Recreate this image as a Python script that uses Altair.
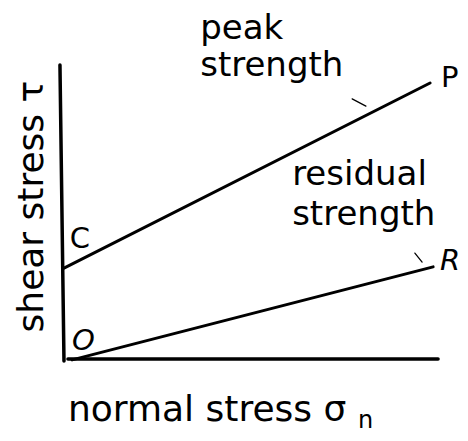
import altair as alt
import pandas as pd

# ---- data (chart units: normal stress 0..100, shear stress 0..100) ----
peak_sigma = [0.26, 96.6]
peak_tau = [30.3, 92.0]
resid_sigma = [2.4, 97.4]
resid_tau = [-0.3, 30.7]

axis_x_sigma = [1.3, 98.7]
axis_x_tau = [0.0, 0.0]
axis_y_sigma = [-0.8, 0.26]
axis_y_tau = [98.0, -0.7]

leader_x1 = [76.1, 92.6]
leader_y1 = [86.7, 35.3]
leader_x2 = [79.7, 94.5]
leader_y2 = [84.3, 32.3]

big_text = ["peak", "strength", "residual", "strength"]
big_x = [36.1, 36.1, 60.3, 60.3]
big_y = [106.7, 94.3, 58.0, 44.7]

xlabel_text = ["normal stress σ"]
xlabel_x = [1.3]
xlabel_y = [-20.7]

point_text = ["P", "C"]
point_x = [99.5, 1.8]
point_y = [90.7, 37.0]

italic_text = ["R", "O"]
italic_x = [99.2, 2.4]
italic_y = [29.7, 3.0]

sub_text = ["n"]
sub_x = [77.6]
sub_y = [-23.0]

ylabel_text = ["shear stress τ"]
ylabel_x = [-5.3]
ylabel_y = [50.8]

FONT = "DejaVu Sans"

xs = alt.Scale(domain=[0, 100], nice=False, zero=False)
ys = alt.Scale(domain=[0, 100], nice=False, zero=False)


def seg_df(x1, y1, x2, y2):
    return pd.DataFrame({"x": x1, "y": y1, "x2": x2, "y2": y2})


def segs(df, width):
    return alt.Chart(df).mark_rule(color="black", strokeWidth=width, strokeCap="round").encode(
        x=alt.X("x:Q", scale=xs, axis=None),
        y=alt.Y("y:Q", scale=ys, axis=None),
        x2="x2:Q",
        y2="y2:Q",
    )


def lines(xv, yv, width):
    df = pd.DataFrame({"x": xv, "y": yv})
    return alt.Chart(df).mark_line(color="black", strokeWidth=width, strokeCap="round").encode(
        x=alt.X("x:Q", scale=xs, axis=None),
        y=alt.Y("y:Q", scale=ys, axis=None),
    )


def texts(t, xv, yv, **kw):
    df = pd.DataFrame({"t": t, "x": xv, "y": yv})
    return alt.Chart(df).mark_text(color="black", font=FONT, **kw).encode(
        x=alt.X("x:Q", scale=xs, axis=None),
        y=alt.Y("y:Q", scale=ys, axis=None),
        text="t:N",
    )


layers = [
    lines(axis_y_sigma, axis_y_tau, 3.5),
    lines(axis_x_sigma, axis_x_tau, 3.5),
    lines(peak_sigma, peak_tau, 3),
    lines(resid_sigma, resid_tau, 3),
    segs(seg_df(leader_x1, leader_y1, leader_x2, leader_y2), 1.3),
    texts(big_text, big_x, big_y, fontSize=34, align="left", baseline="alphabetic"),
    texts(xlabel_text, xlabel_x, xlabel_y, fontSize=36, align="left", baseline="alphabetic"),
    texts(point_text, point_x, point_y, fontSize=29, align="left", baseline="alphabetic"),
    texts(italic_text, italic_x, italic_y, fontSize=29, fontStyle="italic", align="left", baseline="alphabetic"),
    texts(sub_text, sub_x, sub_y, fontSize=24, align="left", baseline="alphabetic"),
    texts(ylabel_text, ylabel_x, ylabel_y, fontSize=36, angle=270, align="center", baseline="alphabetic"),
]

chart = alt.layer(*layers).properties(
    width=380,
    height=300,
    padding={"left": 55, "top": 51, "right": 17, "bottom": 74},
    autosize="none",
    background="white",
).configure_view(stroke=None)

chart.save("out.html", embed_options={"renderer": "svg", "actions": False})
